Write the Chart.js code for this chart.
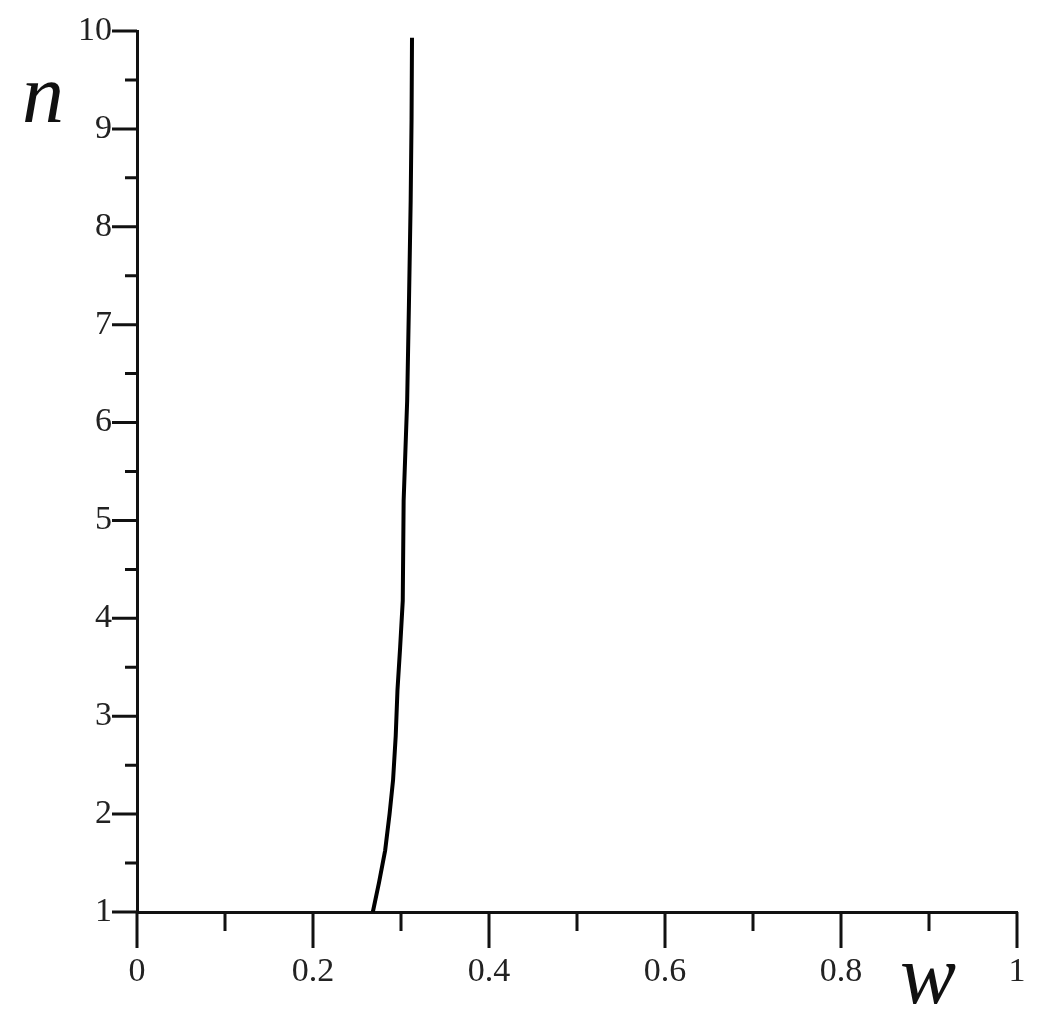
<!DOCTYPE html>
<html>
<head>
<meta charset="utf-8">
<script src="https://cdn.jsdelivr.net/npm/chart.js@4/dist/chart.umd.min.js"></script>
<style>
  body { margin: 0; background: #fff; }
  #wrap { width: 1059px; height: 1031px; }
</style>
</head>
<body>
<div id="wrap"><canvas id="grafica"></canvas></div>
<script>
// dades de la corba (w, n) llegides de la figura
var valors_w = [0.268, 0.275, 0.282, 0.287, 0.291, 0.294, 0.296, 0.299, 0.302, 0.303, 0.307, 0.309, 0.311, 0.312, 0.3125]
var valors_n = [1, 1.3, 1.63, 2, 2.35, 2.8, 3.27, 3.7, 4.18, 5.2, 6.22, 7.2, 8.27, 9.1, 9.93]

// marques dels eixos
var ticks_w_majors = [0, 0.2, 0.4, 0.6, 0.8, 1]
var ticks_w_menors = [0.1, 0.3, 0.5, 0.7, 0.9]
var ticks_n_majors = [1, 2, 3, 4, 5, 6, 7, 8, 9, 10]
var ticks_n_menors = [1.5, 2.5, 3.5, 4.5, 5.5, 6.5, 7.5, 8.5, 9.5]

var font_serif = '"Liberation Serif", "DejaVu Serif", serif'

var punts = valors_w.map(function(w, i) {
  return { x: w, y: valors_n[i] }
})

// dibuixa les marques i els titols dels eixos
var marques = {
  id: 'marques',
  afterDraw: function(chart) {
    var ctx = chart.ctx
    var sx = chart.scales.x
    var sy = chart.scales.y
    var area = chart.chartArea
    ctx.save()
    ctx.strokeStyle = '#111'
    ctx.lineWidth = 3
    ctx.beginPath()
    ticks_w_majors.forEach(function(v) {
      var px = sx.getPixelForValue(v)
      ctx.moveTo(px, area.bottom)
      ctx.lineTo(px, area.bottom + 36)
    })
    ticks_w_menors.forEach(function(v) {
      var px = sx.getPixelForValue(v)
      ctx.moveTo(px, area.bottom)
      ctx.lineTo(px, area.bottom + 19)
    })
    ticks_n_majors.forEach(function(v) {
      var py = sy.getPixelForValue(v)
      ctx.moveTo(area.left, py)
      ctx.lineTo(area.left - 25, py)
    })
    ticks_n_menors.forEach(function(v) {
      var py = sy.getPixelForValue(v)
      ctx.moveTo(area.left, py)
      ctx.lineTo(area.left - 12, py)
    })
    ctx.stroke()

    ctx.fillStyle = '#111'
    ctx.font = 'italic 84px ' + font_serif
    ctx.textBaseline = 'alphabetic'
    ctx.textAlign = 'left'
    ctx.fillText('n', 22, 122)
    ctx.fillText('w', 900, 1003)
    ctx.restore()
  }
}

// sense marge extra per les etiquetes
function sensePadding(scale) {
  scale.paddingLeft = 0
  scale.paddingRight = 0
  scale.paddingTop = 0
  scale.paddingBottom = 0
}

var ctx = document.getElementById('grafica').getContext('2d')
var grafica = new Chart(ctx, {
  type: 'scatter',
  data: {
    datasets: [{
      label: 'n(w)',
      data: punts,
      showLine: true,
      borderColor: '#000',
      borderWidth: 4,
      pointRadius: 0,
      fill: false
    }]
  },
  options: {
    responsive: true,
    maintainAspectRatio: false,
    animation: false,
    layout: { padding: { top: 31, right: 42, left: 0, bottom: 0 } },
    plugins: {
      legend: { display: false },
      tooltip: { enabled: false }
    },
    scales: {
      x: {
        type: 'linear',
        min: 0,
        max: 1,
        afterFit: function(scale) { scale.height = 119; sensePadding(scale) },
        grid: { display: false, drawTicks: false },
        border: { display: true, color: '#111', width: 3 },
        ticks: {
          stepSize: 0.2,
          padding: 40,
          maxRotation: 0,
          color: '#222',
          font: { family: font_serif, size: 34 },
          callback: function(v) { return String(Math.round(v * 10) / 10) }
        }
      },
      y: {
        type: 'linear',
        min: 1,
        max: 10,
        afterFit: function(scale) { scale.width = 137; sensePadding(scale) },
        grid: { display: false, drawTicks: false },
        border: { display: true, color: '#111', width: 3 },
        ticks: {
          stepSize: 1,
          padding: 25,
          color: '#222',
          font: { family: font_serif, size: 34 }
        }
      }
    }
  },
  plugins: [marques]
});
</script>
</body>
</html>
